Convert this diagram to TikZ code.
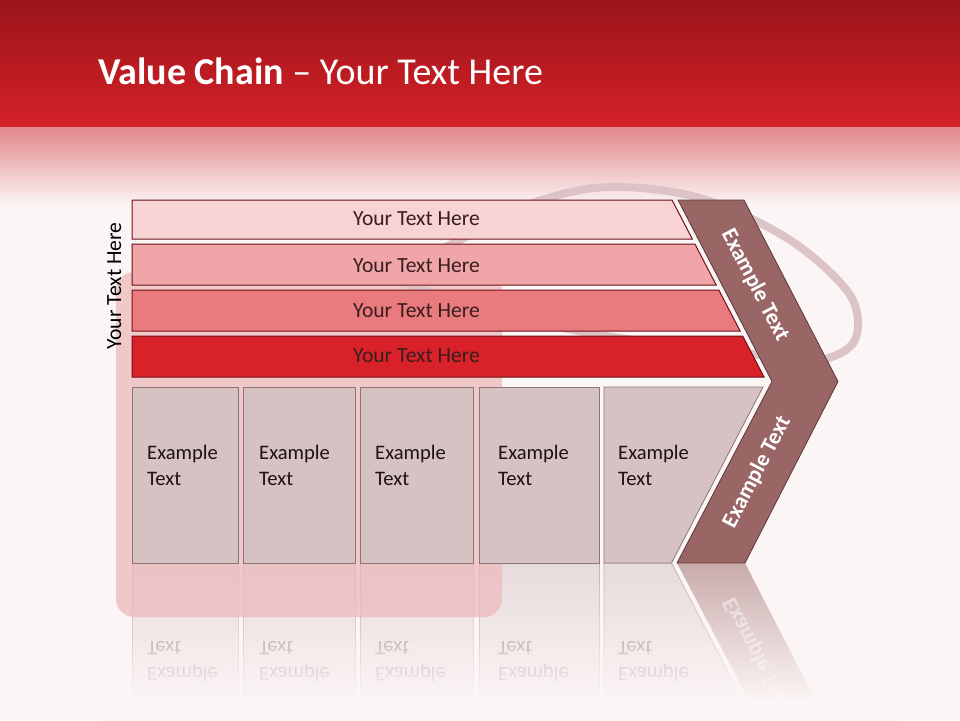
\documentclass[tikz,border=0pt]{standalone}
\usepackage{fontspec}
\setmainfont{Carlito}
\usetikzlibrary{fadings}

\definecolor{bgc}{HTML}{FCF5F5}
\definecolor{hdrA}{HTML}{9A151A}
\definecolor{hdrB}{HTML}{D52128}
\definecolor{hdrC}{HTML}{E1878A}
\definecolor{hdrD}{HTML}{F6DEDF}
\definecolor{barA}{HTML}{F7D3D4}
\definecolor{barB}{HTML}{F0A6A8}
\definecolor{barC}{HTML}{E97A7E}
\definecolor{barD}{HTML}{D92129}
\definecolor{barline}{HTML}{6E1116}
\definecolor{colfill}{HTML}{D6C2C3}
\definecolor{colline}{HTML}{8C7676}
\definecolor{chevfill}{HTML}{996565}
\definecolor{chevline}{HTML}{5C3838}
\definecolor{ringc}{HTML}{DCC4C6}
\definecolor{tagc}{HTML}{EDBDC0}
\definecolor{bartext}{HTML}{3A1E1E}
\definecolor{coltext}{HTML}{1E1212}

\tikzfading[name=reflfade, top color=transparent!100, bottom color=transparent!0]

\tikzset{
  barshape/.style={draw=barline, line width=1pt},
  colbox/.style={draw=colline, line width=0.8pt, fill=colfill},
  chevshape/.style={draw=chevline, line width=0.8pt, fill=chevfill},
  bartxt/.style={anchor=base, inner sep=0pt, text=bartext, font=\fontsize{21.6}{25}\selectfont},
  coltxt/.style={anchor=north west, inner sep=0pt, align=left, text=coltext, font=\fontsize{20.6}{26}\selectfont},
  chevtxt/.style={inner sep=0pt, text=white, font=\bfseries\fontsize{22.5}{26}\selectfont},
}

\newcommand\lowerpart[1]{%
  \draw[colbox] (132,387) rectangle (238,563);
  \draw[colbox] (243,387) rectangle (355,563);
  \draw[colbox] (360,387) rectangle (473,563);
  \draw[colbox] (479,387) rectangle (599,563);
  \draw[colbox] (604,387) -- (763,387) -- (671.5,563) -- (604,563) -- cycle;
  \node[coltxt] (#1t1) at (147,444.5) {Example\\Text};
  \node[coltxt] (#1t2) at (259,444.5) {Example\\Text};
  \node[coltxt] (#1t3) at (375,444.5) {Example\\Text};
  \node[coltxt] (#1t4) at (498,444.5) {Example\\Text};
  \node[coltxt] (#1t5) at (618,444.5) {Example\\Text};
}

\begin{document}
\begin{tikzpicture}[x=1pt, y=-1pt]
  \useasboundingbox (0,0) rectangle (960,720);
  \fill[bgc] (0,0) rectangle (960,720);

  % header
  \shade[top color=hdrA, bottom color=hdrB] (0,0) rectangle (960,127);
  \shade[top color=hdrC, middle color=hdrD, bottom color=bgc] (0,127) rectangle (960,205);
  \node[anchor=base west, inner sep=0pt, text=white, font=\fontsize{38}{42}\selectfont] (title) at (98,84)
    {\textbf{Value Chain} – Your Text Here};

  % reflection
  \begin{scope}[opacity=0.5, shift={(0,1126)}, yscale=-1, transform shape]
    \lowerpart{r}
    \fill[chevfill] (772,381.5) -- (838,381.5) -- (745,563) -- (677,563) -- cycle;
    \node[chevtxt, rotate=62.5] (rchevlow) at (757,472) {Example Text};
  \end{scope}
  \fill[bgc, path fading=reflfade] (100,564) rectangle (900,700);
  \fill[bgc] (100,699) rectangle (900,722);

  % background decoration
  \fill[tagc, opacity=0.8, rounded corners=18pt] (116,272) rectangle (502,617);
  \draw[ringc, line width=8pt] plot[smooth cycle, tension=0.55] coordinates
    {(400,275) (460,240) (530,204) (607,187) (700,198) (790,240) (850,295) (855,340) (820,360) (760,355) (600,335) (470,305)};

  % bars
  \draw[barshape, fill=barA] (132,200) -- (672,200) -- (692.3,239) -- (132,239) -- cycle;
  \draw[barshape, fill=barB] (132,244) -- (694.9,244) -- (716.2,285) -- (132,285) -- cycle;
  \draw[barshape, fill=barC] (132,290) -- (718.8,290) -- (740.1,331) -- (132,331) -- cycle;
  \draw[barshape, fill=barD] (132,336) -- (742.7,336) -- (764,377) -- (132,377) -- cycle;
  \node[bartxt] (b1) at (416.5,225) {Your Text Here};
  \node[bartxt] (b2) at (416.5,272.5) {Your Text Here};
  \node[bartxt] (b3) at (416.5,317.5) {Your Text Here};
  \node[bartxt] (b4) at (416.5,362.5) {Your Text Here};

  % left label
  \node[rotate=90, anchor=base, inner sep=0pt, text=black, font=\fontsize{21.6}{25}\selectfont] (side) at (121,286) {Your Text Here};

  % columns
  \lowerpart{m}

  % chevron
  \draw[chevshape] (678,200) -- (744,200) -- (838,381.5) -- (745,563) -- (677,563) -- (772,381.5) -- cycle;
  \node[chevtxt, rotate=-62.5] (chevup) at (755,285) {Example Text};
  \node[chevtxt, rotate=62.5] (chevlow) at (757,472) {Example Text};
\end{tikzpicture}
\end{document}
